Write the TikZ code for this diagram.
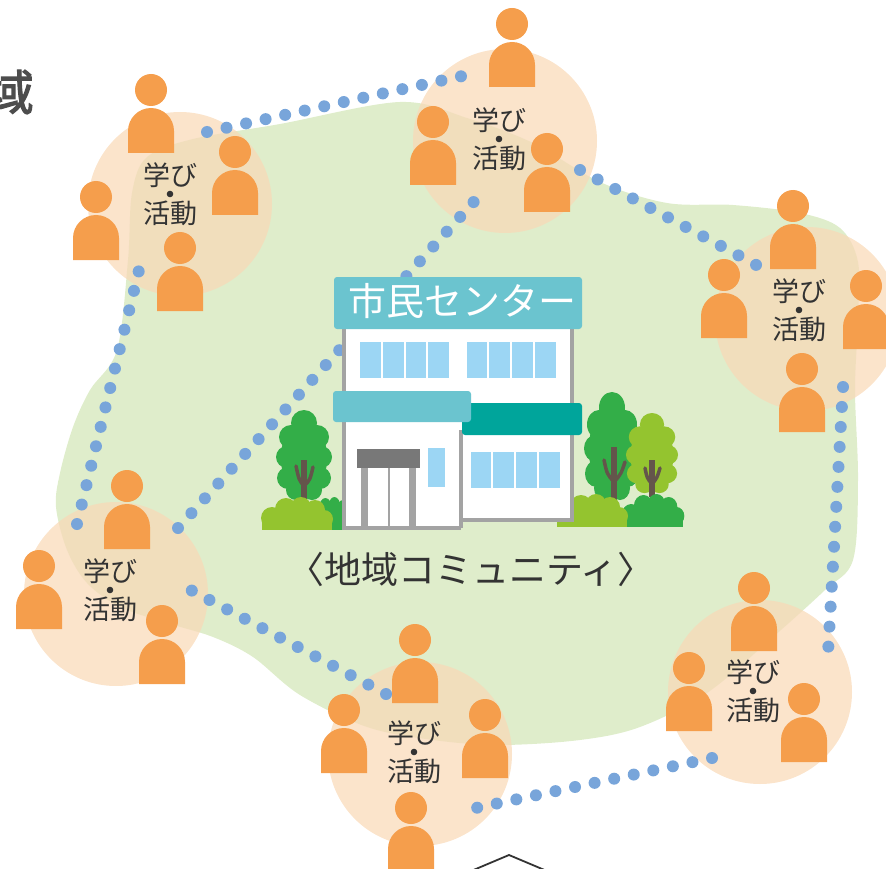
\documentclass[tikz,border=0pt]{standalone}
\usepackage{fontspec}
\setmainfont{Noto Sans CJK JP}
\newfontfamily\jpbold{Noto Sans CJK JP}[FakeBold=2.5]

\definecolor{commgreen}{HTML}{DFEDCB}
\definecolor{groupfill}{HTML}{F9D9B7}
\definecolor{personorange}{HTML}{F59E4C}
\definecolor{linkblue}{HTML}{78A5DA}
\definecolor{signblue}{HTML}{6BC4CF}
\definecolor{bandteal}{HTML}{00A59B}
\definecolor{wallgrey}{HTML}{A3A3A3}
\definecolor{glassblue}{HTML}{9CD6F4}
\definecolor{canopygrey}{HTML}{787878}
\definecolor{treedark}{HTML}{33AE48}
\definecolor{treelight}{HTML}{94C42F}
\definecolor{trunkbrown}{HTML}{64554B}
\definecolor{inkdark}{HTML}{333333}
\definecolor{titlegrey}{HTML}{4D4D4D}

\begin{document}
\begin{tikzpicture}[x=1pt,y=-1pt,
  groupring/.style={fill=groupfill, fill opacity=0.72},
  link/.style={draw=linkblue, line width=12pt, line cap=round, dash pattern=on 0pt off 20pt},
  grouplabel/.style={align=center, inner sep=0pt, text=inkdark, font=\fontsize{27}{38}\selectfont},
  labeldot/.style={fill=inkdark},
  pane/.style={fill=glassblue},
  wall/.style={draw=wallgrey, line width=4pt},
  trunk/.style={draw=trunkbrown, line width=6pt},
  twig/.style={draw=trunkbrown, line width=3.5pt, line cap=round},
  person/.pic={
    \fill[personorange] (-23,0) -- (-23,-22) arc[start angle=180, end angle=0, radius=23pt] -- (23,0) -- cycle;
    \fill[personorange] (0,-63) circle[radius=16pt];
  },
  crown/.pic={
    \fill[#1] (0,48) ellipse[x radius=23, y radius=38];
    \foreach \cx/\cy/\cr in {0/13/13, -13/27/12, 13/27/12, -17/47/11, 17/47/11,
                             -16/68/11, 16/68/11, -8/80/10, 8/80/10}
      \fill[#1] (\cx,\cy) circle[radius=\cr];
  },
  bush/.pic={
    \fill[#1] (-35,0) rectangle (35,-12);
    \fill[#1] (-26,0) rectangle (26,-20);
    \foreach \cx/\cy/\cr in {-25/-12/11, -11/-21/11, 4/-23/10, 18/-20/10, 27/-11/9}
      \fill[#1] (\cx,\cy) circle[radius=\cr];
  }
]
\useasboundingbox (0,0) rectangle (886,869);

% community area
\fill[commgreen] plot[smooth cycle, tension=0.55] coordinates {
  (147,157) (193,139) (280,124) (400,102) (467,118) (533,143) (600,182)
  (667,203) (733,205) (800,213) (840,228) (858,262) (858,320) (855,390)
  (858,480) (853,560) (825,590) (773,637) (707,693) (640,727) (580,740)
  (500,745) (433,740) (367,727) (300,695) (253,657) (213,637) (167,623)
  (120,607) (87,583) (67,550) (56,507) (60,473) (73,427) (90,390)
  (117,350) (128,260) (132,193)};

% activity groups
\coordinate (gTL) at (180,204);
\coordinate (gT)  at (505,141);
\coordinate (gR)  at (807,319);
\coordinate (gBR) at (760,692);
\coordinate (gB)  at (420,754);
\coordinate (gL)  at (116,594);
\foreach \g in {gTL,gT,gR,gBR,gB,gL}
  \fill[groupring] (\g) circle (92pt);

% links between the groups
\coordinate (tlE) at (207,132);  \coordinate (tW)  at (467,75);
\coordinate (tE)  at (580,170);  \coordinate (rW)  at (760,267);
\coordinate (rS)  at (843,387);  \coordinate (brN) at (828,653);
\coordinate (brW) at (712,758);  \coordinate (bE)  at (471,809);
\coordinate (bW)  at (386,694);  \coordinate (lE)  at (187,588);
\coordinate (lN)  at (77,524);   \coordinate (tlS) at (140,266);
\coordinate (lNE) at (178,528);  \coordinate (tSW) at (480,195);
\draw[link] (tlE) -- (tW);
\draw[link] (tE) -- (rW);
\draw[link] (rS) -- (brN);
\draw[link] (brW) -- (bE);
\draw[link] (bW) -- (lE);
\draw[link] (lN) -- (tlS);
\draw[link] (lNE) -- (tSW);

% trees and bushes
\pic at (332,530) [xscale=0.6] {bush=treedark};
\pic at (304,410) {crown=treedark};
\draw[trunk] (304,503) -- (304,460);
\draw[twig] (304,486) .. controls (299,480) .. (296,466);
\draw[twig] (304,486) .. controls (310,480) .. (313,467);
\pic at (297,530) {bush=treelight};

\pic at (612,392) [yscale=1.2] {crown=treedark};
\draw[trunk] (614,505) -- (614,447);
\draw[twig] (614,482) .. controls (607,474) .. (604,460);
\draw[twig] (614,482) .. controls (621,474) .. (625,462);
\pic at (652,413) [xscale=0.93, yscale=0.89] {crown=treelight};
\draw[trunk] (652,497) -- (652,460);
\draw[twig] (652,484) .. controls (647,478) .. (645,468);
\draw[twig] (652,484) .. controls (657,478) .. (660,468);
\pic at (653,527) [xscale=0.87] {bush=treedark};
\pic at (592,527) {bush=treelight};

% civic centre building
\fill[white] (344,329) -- (344,528) -- (461,528) -- (461,520) -- (572,520) -- (572,329) -- cycle;
\draw[wall] (344,327) -- (344,528) -- (461,528);
\draw[wall] (461,430) -- (461,528);
\draw[wall] (459,520) -- (572,520) -- (572,327);
\foreach \a/\b in {360/380.7, 382.7/404, 406/426.3, 428.3/449, 467/487.3, 489.3/510, 512/533, 535/556}
  \fill[pane] (\a,342) rectangle (\b,378);
\foreach \a/\b in {471/490.7, 492.7/514, 516/536.7, 538.7/560}
  \fill[pane] (\a,452) rectangle (\b,488);
\fill[pane] (428.3,448.3) rectangle (445,486.7);
\fill[bandteal, rounded corners=3pt] (462,403) rectangle (582,435);
\fill[signblue, rounded corners=3pt] (333,391) rectangle (471,422);
\fill[canopygrey] (356.7,449) rectangle (420,467.7);
\fill[wallgrey] (361,467.7) rectangle (368.3,528);
\fill[wallgrey] (409,467.7) rectangle (416,528);
\fill[wallgrey] (387.7,467.7) rectangle (390,528);
\fill[signblue, rounded corners=3pt] (334,277) rectangle (582,329);
\node[text=white, inner sep=0pt, font=\fontsize{38}{38}\selectfont] (signtext) at (462,301) {市民センター};

% members
\foreach \px/\pb in {151/153, 235/215, 96/260, 180/311,
                     512/87, 433/185, 547/212,
                     793/269, 724/338, 866/349, 802/432,
                     754/651, 689/731, 804/762,
                     415/703, 344/773, 485/778, 411/871,
                     127/549, 39/629, 162/684}
  \pic at (\px,\pb) {person};

% group labels
\foreach \n/\lx/\ly in {lblTL/170/194, lblT/499/139, lblR/799/310, lblBR/753/691, lblB/414/752, lblL/110/590}{
  \node[grouplabel] (\n) at (\lx,\ly) {学び\\活動};
  \fill[labeldot] (\n.center) circle (3.3pt);
}

% area caption
\node[text=inkdark, inner sep=0pt, font=\fontsize{37}{37}\selectfont] (community) at (471,569) {〈地域コミュニティ〉};

% heading
\node[text=titlegrey, anchor=east, inner sep=0pt, font=\jpbold\fontsize{48}{48}\selectfont] (heading) at (34,92) {域};

% pointer below
\coordinate (chevL) at (464,874);
\coordinate (chevTop) at (509,855);
\coordinate (chevR) at (554,874);
\draw[inkdark, line width=1.8pt] (chevL) -- (chevTop) -- (chevR);
\end{tikzpicture}
\end{document}
